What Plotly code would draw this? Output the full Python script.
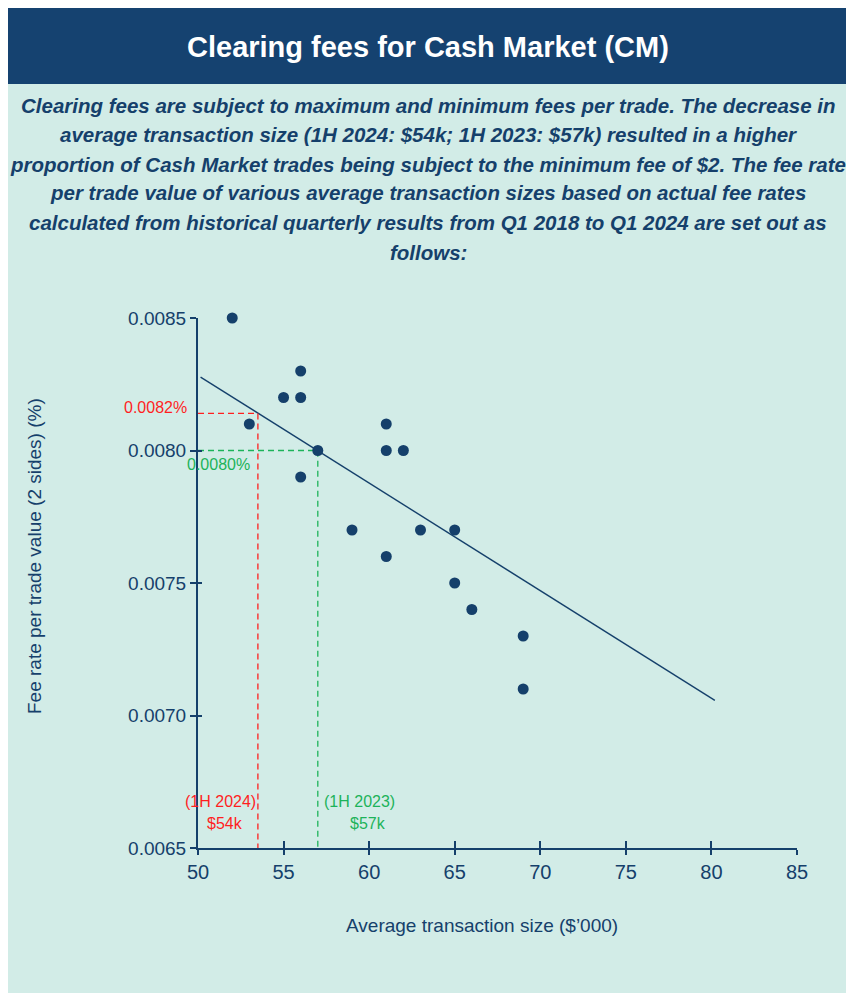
import plotly.graph_objects as go

# scatter of quarterly results
avg_size = [52, 53, 55, 56, 56, 56, 57, 59, 61, 61, 61, 62, 63, 65, 65, 66, 69, 69]
fee_rate = [0.0085, 0.0081, 0.0082, 0.0082, 0.0083, 0.0079, 0.0080, 0.0077, 0.0081,
            0.0080, 0.0076, 0.0080, 0.0077, 0.0077, 0.0075, 0.0074, 0.0073, 0.0071]

# trend line end points
trend_x = [50.15, 80.2]
trend_y = [0.008277, 0.007057]

# reference guides
ref_2024 = (53.5, 0.00814)
ref_2023 = (57.0, 0.0080)

y_ticks = [0.0065, 0.0070, 0.0075, 0.0080, 0.0085]
x_ticks = [50, 55, 60, 65, 70, 75, 80, 85]

subtitle = [
    "Clearing fees are subject to maximum and minimum fees per trade. The decrease in",
    "average transaction size (1H 2024: $54k; 1H 2023: $57k) resulted in a higher",
    "proportion of Cash Market trades being subject to the minimum fee of $2. The fee rate",
    "per trade value of various average transaction sizes based on actual fee rates",
    "calculated from historical quarterly results from Q1 2018 to Q1 2024 are set out as",
    "follows:",
]

NAVY = "#15406b"
HEADER = "#154270"
LIGHT = "#d2ece7"
RED = "#ff1f1f"
GREEN = "#1db35a"
FONT = "Liberation Sans, Arial, sans-serif"

# page is drawn with an 8px body margin, so the figure is 8px smaller
OFF = 8
W, H = 854 - OFF, 993 - OFF
L, R, T, B = 198 - OFF, 57, 318 - OFF, 145
PW, PH = W - L - R, H - T - B


def px(xp):
    # page pixel -> paper x
    return (xp - OFF - L) / PW


def py(yp):
    # page pixel -> paper y
    return (H - B - (yp - OFF)) / PH


fig = go.Figure()

fig.add_trace(go.Scatter(
    x=trend_x, y=trend_y, mode="lines",
    line=dict(color=NAVY, width=1.4), hoverinfo="skip",
))
for (rx, ry), col in [(ref_2024, RED), (ref_2023, GREEN)]:
    fig.add_trace(go.Scatter(
        x=[50, rx, rx], y=[ry, ry, y_ticks[0]], mode="lines",
        line=dict(color=col, width=1.3, dash="6px,4px"), hoverinfo="skip",
    ))
fig.add_trace(go.Scatter(
    x=avg_size, y=fee_rate, mode="markers",
    marker=dict(color=NAVY, size=11), cliponaxis=False,
))
# empty trace so the tick overlay axes get drawn
fig.add_trace(go.Scatter(x=[], y=[], xaxis="x2", yaxis="y2"))

axis_common = dict(showgrid=False, zeroline=False, tickcolor=NAVY, tickwidth=2)
fig.update_layout(
    width=W, height=H,
    margin=dict(l=L, r=R, t=T, b=B),
    paper_bgcolor="white",
    plot_bgcolor="rgba(0,0,0,0)",
    showlegend=False,
    font=dict(family=FONT, color=NAVY),
    xaxis=dict(
        **axis_common, range=[50, 85], tickvals=x_ticks,
        showline=True, linecolor=NAVY, linewidth=2,
        ticks="outside", ticklen=5,
        tickfont=dict(size=20, color=NAVY),
    ),
    yaxis=dict(
        **axis_common, range=[0.0065, 0.0085], tickvals=y_ticks, tickformat=".4f",
        showline=True, linecolor=NAVY, linewidth=2,
        ticks="outside", ticklen=6,
        tickfont=dict(size=19, color=NAVY),
    ),
    xaxis2=dict(
        **axis_common, range=[50, 85], tickvals=x_ticks, overlaying="x", anchor="y2",
        showline=False, showticklabels=False, ticks="inside", ticklen=7,
    ),
    yaxis2=dict(
        **axis_common, range=[0.0065, 0.0085], tickvals=y_ticks, overlaying="y", anchor="x2",
        showline=False, showticklabels=False, ticks="inside", ticklen=4,
    ),
)

# page background + header band
fig.add_shape(type="rect", xref="paper", yref="paper", layer="below",
              x0=px(3), x1=px(852), y0=py(1000), y1=py(84),
              fillcolor=LIGHT, line_width=0)
fig.add_shape(type="rect", xref="paper", yref="paper", layer="below",
              x0=px(3), x1=px(852), y0=py(84), y1=py(7),
              fillcolor=HEADER, line_width=0)

fig.add_annotation(
    text="<b>Clearing fees for Cash Market (CM)</b>", xref="paper", yref="paper",
    x=px(428), y=py(47), showarrow=False, xanchor="center", yanchor="middle",
    font=dict(size=29, color="white", family=FONT),
)
line_y = [105, 134.5, 164, 193, 222.5, 252]
for txt, yp in zip(subtitle, line_y):
    fig.add_annotation(
        text=f"<b><i>{txt}</i></b>", xref="paper", yref="paper",
        x=px(428), y=py(yp), showarrow=False, xanchor="center", yanchor="middle",
        font=dict(size=20.5, color=NAVY, family=FONT),
    )

# axis titles
fig.add_annotation(
    text="Fee rate per trade value (2 sides) (%)", xref="paper", yref="paper",
    x=px(34), y=py(556), showarrow=False, textangle=-90,
    xanchor="center", yanchor="middle", font=dict(size=19, color=NAVY),
)
fig.add_annotation(
    text="Average transaction size ($’000)", xref="paper", yref="paper",
    x=px(482), y=py(925), showarrow=False, xanchor="center", yanchor="middle",
    font=dict(size=19, color=NAVY),
)

# guide labels
fig.add_annotation(text="0.0082%", xref="paper", yref="paper", x=px(189), y=py(407),
                   xanchor="right", yanchor="middle", showarrow=False,
                   font=dict(size=16, color=RED))
fig.add_annotation(text="0.0080%", xref="paper", yref="paper", x=px(185), y=py(464),
                   xanchor="left", yanchor="middle", showarrow=False,
                   font=dict(size=16, color=GREEN))
fig.add_annotation(text="(1H 2024)", x=51.34, y=0.006674, showarrow=False,
                   font=dict(size=16, color=RED))
fig.add_annotation(text="$54k", x=51.58, y=0.006594, showarrow=False,
                   font=dict(size=16, color=RED))
fig.add_annotation(text="(1H 2023)", x=59.44, y=0.006674, showarrow=False,
                   font=dict(size=16, color=GREEN))
fig.add_annotation(text="$57k", x=59.94, y=0.006594, showarrow=False,
                   font=dict(size=16, color=GREEN))

fig.write_html("out.html")
